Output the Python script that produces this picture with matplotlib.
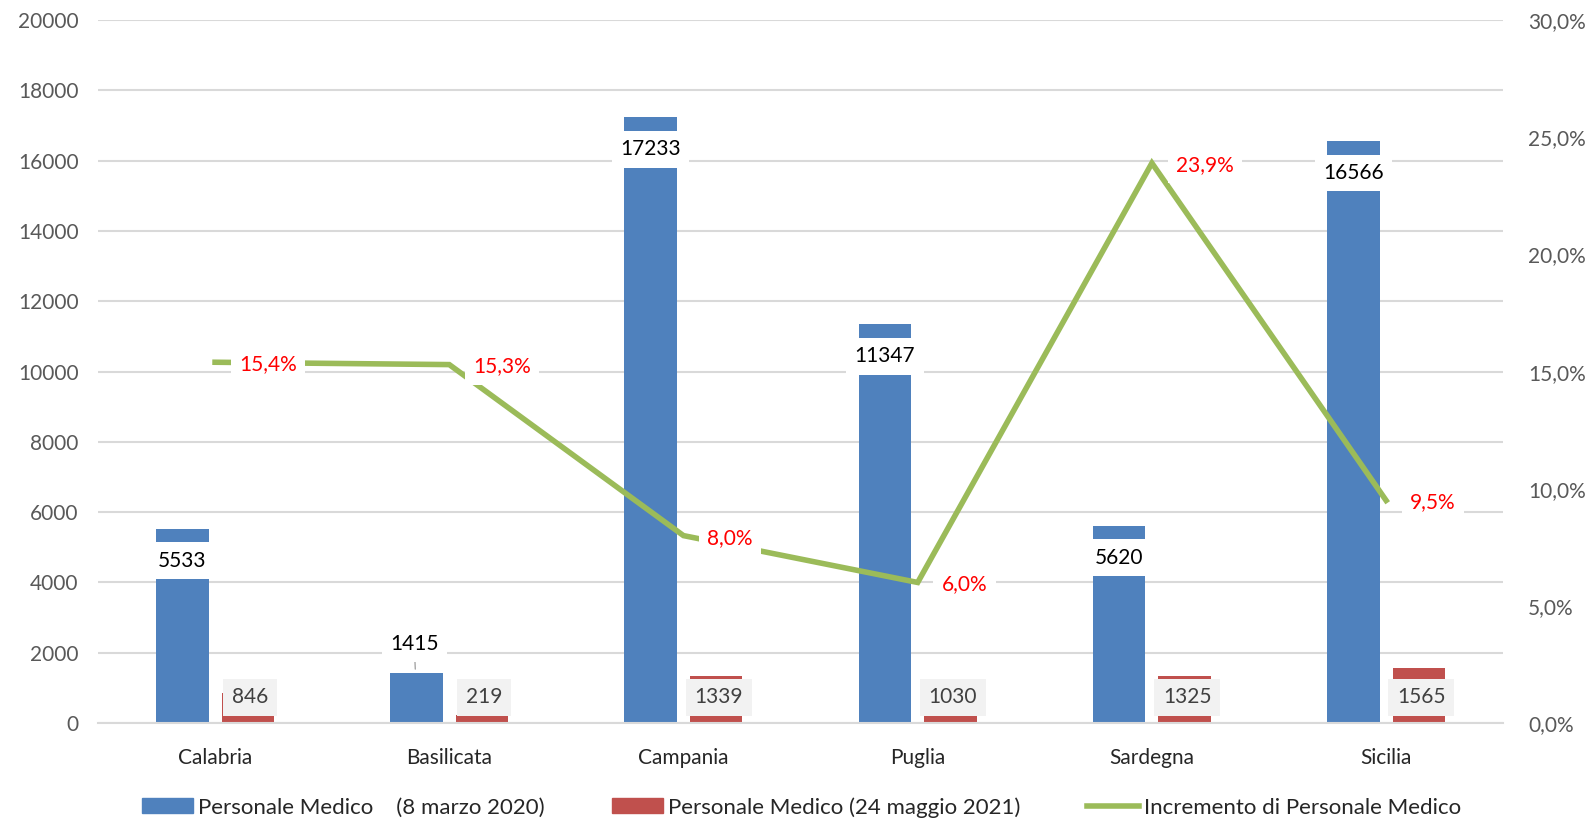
import numpy as np
import matplotlib
matplotlib.use("Agg")
import matplotlib.pyplot as plt
from matplotlib.patches import Patch
from matplotlib.lines import Line2D
from matplotlib.ticker import FuncFormatter

plt.rcParams['font.family'] = ['Lato', 'DejaVu Sans']

regioni = ['Calabria', 'Basilicata', 'Campania', 'Puglia', 'Sardegna', 'Sicilia']
medici_2020 = [5533, 1415, 17233, 11347, 5620, 16566]
medici_2021 = [846, 219, 1339, 1030, 1325, 1565]
incremento = [15.4, 15.3, 8.0, 6.0, 23.9, 9.5]

legend_labels = ['Personale Medico    (8 marzo 2020)',
                 'Personale Medico (24 maggio 2021)',
                 'Incremento di Personale Medico']

BLUE = '#4f81bd'
RED = '#c0504d'
GREEN = '#9bbb59'
GRID = '#d9d9d9'
TICK = '#595959'

fig = plt.figure(figsize=(15.85, 8.18), dpi=100)
ax = fig.add_axes([0.0618, 0.1161, 0.8866, 0.8592])
ax2 = ax.twinx()

x = np.arange(len(regioni))
w = 0.224
off = 0.14

ax.bar(x - off, medici_2020, w, color=BLUE, zorder=2)
ax.bar(x + off, medici_2021, w, color=RED, zorder=2)

ax.set_xlim(-0.5, len(regioni) - 0.5)
ax.set_ylim(0, 20000)
ax.set_yticks(np.arange(0, 20001, 2000))
ax.yaxis.grid(True, color=GRID, linewidth=1.5, zorder=0)
ax.set_axisbelow(True)
for s in ax.spines.values():
    s.set_visible(False)
for s in ax2.spines.values():
    s.set_visible(False)
ax.spines['bottom'].set_visible(True)
ax.spines['bottom'].set_color(GRID)
ax.spines['bottom'].set_linewidth(1.5)

ax.set_xticks(x)
ax.set_xticklabels(regioni, fontsize=15, color='#262626')
ax.tick_params(axis='x', length=0, pad=18)
ax.tick_params(axis='y', length=0, labelsize=15, labelcolor=TICK, pad=14)

# blue labels
for i, v in enumerate(medici_2020):
    if regioni[i] == 'Basilicata':
        ax.annotate(str(v), xy=(x[i] - off - 0.005, v + 120),
                    xytext=(x[i] - off - 0.01, 2260), ha='center', va='center',
                    fontsize=15, color='black',
                    bbox=dict(boxstyle='square,pad=0.4', fc='white', ec='none'),
                    arrowprops=dict(arrowstyle='-', color='#a6a6a6', lw=1,
                                    shrinkA=9, shrinkB=0),
                    zorder=5)
    else:
        ax.annotate(str(v), xy=(x[i] - off, v), xytext=(0, -32),
                    textcoords='offset pixels', ha='center', va='center',
                    fontsize=15, color='black',
                    bbox=dict(boxstyle='square,pad=0.4', fc='white', ec='none'),
                    zorder=5)

# red labels
for i, v in enumerate(medici_2021):
    ax.text(x[i] + off + 0.01, 730, str(v), ha='center', va='center',
            fontsize=15, color='#404040',
            bbox=dict(boxstyle='square,pad=0.42', fc='#f2f2f2', ec='none'),
            zorder=5)

# line on secondary axis
ax2.plot(x, incremento, color=GREEN, linewidth=4, solid_joinstyle='miter', zorder=3)
ax2.set_ylim(0, 30)
ax2.set_yticks(np.arange(0, 30.1, 5))
ax2.yaxis.set_major_formatter(FuncFormatter(lambda v, p: f'{v:.1f}%'.replace('.', ',')))
ax2.tick_params(axis='y', length=0, labelsize=15, labelcolor=TICK, pad=18)

for i, v in enumerate(incremento):
    ax2.annotate(f'{v:.1f}%'.replace('.', ','), xy=(x[i], v), xytext=(24, -2),
                 textcoords='offset pixels', ha='left', va='center',
                 fontsize=15, color='#ff0000',
                 bbox=dict(boxstyle='square,pad=0.4', fc='white', ec='none'),
                 zorder=6)

handles = [Patch(color=BLUE), Patch(color=RED),
           Line2D([0], [0], color=GREEN, linewidth=4)]
fig.legend(handles, legend_labels, loc='lower center', ncol=3, frameon=False,
           fontsize=16, bbox_to_anchor=(0.5057, -0.024), handlelength=2.3,
           handleheight=0.65, columnspacing=3.0, handletextpad=0.25,
           labelcolor='#262626')

fig.savefig('out.png', dpi=100)
